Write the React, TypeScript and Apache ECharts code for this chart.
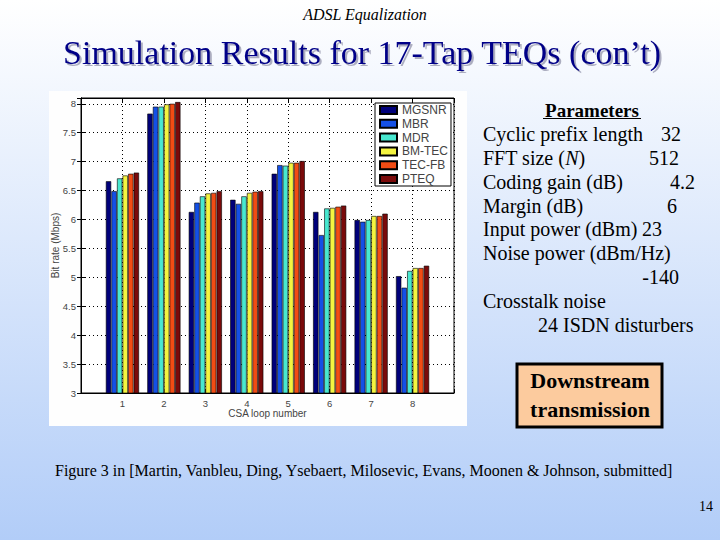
import React, { useEffect, useRef } from "react";
import * as echarts from "echarts";

const loops = [1, 2, 3, 4, 5, 6, 7, 8];
const seriesNames = ["MGSNR", "MBR", "MDR", "BM-TEC", "TEC-FB", "PTEQ"];
const mgsnr = [6.66, 7.83, 6.13, 6.34, 6.79, 6.13, 5.99, 5.02];
const mbr = [6.49, 7.95, 6.29, 6.27, 6.94, 5.73, 5.96, 4.82];
const mdr = [6.71, 7.95, 6.4, 6.4, 6.93, 6.19, 5.99, 5.11];
const bmtec = [6.76, 7.99, 6.45, 6.46, 6.98, 6.2, 6.06, 5.16];
const tecfb = [6.79, 8.0, 6.46, 6.48, 6.98, 6.22, 6.06, 5.16];
const pteq = [6.81, 8.03, 6.49, 6.49, 7.01, 6.24, 6.1, 5.2];
const seriesValues = [mgsnr, mbr, mdr, bmtec, tecfb, pteq];
const seriesColors = ["#00007a", "#1450e6", "#48e8d0", "#f4f440", "#f24c14", "#7a0a0a"];

const paramLines = [
  { label: "Cyclic prefix length", value: "32", vx: 681, y: 134 },
  { label: "FFT size (N)", value: "512", vx: 679, y: 158 },
  { label: "Coding gain (dB)", value: "4.2", vx: 695, y: 182 },
  { label: "Margin (dB)", value: "6", vx: 677, y: 206 },
  { label: "Input power (dBm)", value: "23", vx: 662, y: 229 },
  { label: "Noise power (dBm/Hz)", value: "-140", vx: 679, y: 277 },
];

const serif = "'Liberation Serif', 'Times New Roman', serif";
const sans = "'Liberation Sans', Arial, sans-serif";
const bodyFont = `20px ${serif}`;

export default function App() {
  const ref = useRef<HTMLDivElement>(null);
  useEffect(() => {
    if (!ref.current) return;
    const chart = echarts.init(ref.current, null, { renderer: "svg" });

    const textEls: any[] = [];
    paramLines.forEach((p) => {
      if (p.label === "FFT size (N)") {
        textEls.push({
          type: "text",
          x: 483,
          y: p.y,
          style: {
            text: "{a|FFT size (}{i|N}{a|)}",
            verticalAlign: "middle",
            rich: {
              a: { font: bodyFont, fill: "#000" },
              i: { font: `italic 20px ${serif}`, fill: "#000" },
            },
          },
        });
      } else {
        textEls.push({
          type: "text",
          x: 483,
          y: p.label.startsWith("Noise") ? 253 : p.y,
          style: { text: p.label, font: bodyFont, fill: "#000", verticalAlign: "middle" },
        });
      }
      textEls.push({
        type: "text",
        x: p.vx,
        y: p.y,
        style: { text: p.value, font: bodyFont, fill: "#000", align: "right", verticalAlign: "middle" },
      });
    });

    const option: any = {
      animation: false,
      backgroundColor: {
        type: "linear",
        x: 0,
        y: 0,
        x2: 0,
        y2: 1,
        colorStops: [
          { offset: 0, color: "#ffffff" },
          { offset: 1, color: "#b2cdf8" },
        ],
      },
      graphic: [
        { type: "rect", z: -10, shape: { x: 49, y: 91, width: 418, height: 335 }, style: { fill: "#fefefe" } },
        {
          type: "text",
          x: 365,
          y: 14,
          style: { text: "ADSL Equalization", font: `italic 16px ${serif}`, fill: "#000", align: "center", verticalAlign: "middle" },
        },
        {
          type: "text",
          x: 362,
          y: 52,
          style: {
            text: "Simulation Results for 17-Tap TEQs (con’t)",
            font: `34px ${serif}`,
            fill: "#000088",
            align: "center",
            verticalAlign: "middle",
            textShadowColor: "rgba(100,100,130,0.5)",
            textShadowOffsetX: 2,
            textShadowOffsetY: 2,
            textShadowBlur: 1,
          },
        },
        {
          type: "text",
          x: 592,
          y: 110,
          style: { text: "Parameters", font: `bold 19px ${serif}`, fill: "#000", align: "center", verticalAlign: "middle" },
        },
        { type: "line", shape: { x1: 543, y1: 118.5, x2: 641, y2: 118.5 }, style: { stroke: "#000", lineWidth: 1.2 } },
        ...textEls,
        {
          type: "text",
          x: 483,
          y: 301,
          style: { text: "Crosstalk noise", font: bodyFont, fill: "#000", verticalAlign: "middle" },
        },
        {
          type: "text",
          x: 538,
          y: 325,
          style: { text: "24 ISDN disturbers", font: bodyFont, fill: "#000", verticalAlign: "middle" },
        },
        {
          type: "rect",
          shape: { x: 517, y: 364, width: 145, height: 63 },
          style: { fill: "#fccb9e", stroke: "#000", lineWidth: 3 },
        },
        {
          type: "text",
          x: 590,
          y: 380,
          style: { text: "Downstream", font: `bold 22px ${serif}`, fill: "#000", align: "center", verticalAlign: "middle" },
        },
        {
          type: "text",
          x: 590,
          y: 409,
          style: { text: "transmission", font: `bold 22px ${serif}`, fill: "#000", align: "center", verticalAlign: "middle" },
        },
        {
          type: "text",
          x: 55,
          y: 470,
          style: {
            text: "Figure 3 in [Martin, Vanbleu, Ding, Ysebaert, Milosevic, Evans, Moonen & Johnson, submitted]",
            font: `16px ${serif}`,
            fill: "#000",
            verticalAlign: "middle",
          },
        },
        {
          type: "text",
          x: 713,
          y: 506,
          style: { text: "14", font: `14px ${serif}`, fill: "#000", align: "right", verticalAlign: "middle" },
        },
      ],
      legend: {
        orient: "vertical",
        left: 375,
        top: 103,
        data: seriesNames,
        backgroundColor: "#ffffff",
        borderColor: "#000",
        borderWidth: 1,
        borderRadius: 0,
        padding: [1, 3, 1, 4],
        itemWidth: 17,
        itemHeight: 8,
        itemGap: 1.8,
        icon: "rect",
        textStyle: { fontFamily: sans, fontSize: 12, lineHeight: 10, color: "#444" },
      },
      grid: {
        left: 81,
        top: 98,
        right: 266,
        bottom: 147,
        show: true,
        borderColor: "#000",
        borderWidth: 1,
        backgroundColor: "#ffffff",
      },
      xAxis: [
        {
          type: "value",
          min: 0,
          max: 9,
          interval: 1,
          name: "CSA loop number",
          nameLocation: "middle",
          nameGap: 15,
          nameMoveOverlap: false,
          nameTextStyle: { fontFamily: sans, fontSize: 10, color: "#444" },
          axisLine: { show: true, lineStyle: { color: "#000", width: 1 } },
          axisTick: { show: true, inside: true, length: 4, lineStyle: { color: "#000" } },
          axisLabel: {
            fontFamily: sans,
            fontSize: 9.5,
            color: "#444",
            margin: 5,
            formatter: (v: number) => (v >= 1 && v <= 8 ? String(v) : ""),
          },
          splitLine: { show: true, lineStyle: { color: "#000", type: [1, 3], width: 1 } },
        },
        {
          type: "value",
          position: "top",
          min: 0,
          max: 9,
          interval: 1,
          axisLine: { show: true, lineStyle: { color: "#000" } },
          axisTick: { show: true, inside: true, length: 4, lineStyle: { color: "#000" } },
          axisLabel: { show: false },
          splitLine: { show: false },
        },
      ],
      yAxis: [
        {
          type: "value",
          min: 3,
          max: 8.1,
          interval: 0.5,
          name: "Bit rate (Mbps)",
          nameLocation: "middle",
          nameGap: 21,
          nameMoveOverlap: false,
          nameTextStyle: { fontFamily: sans, fontSize: 10, color: "#444" },
          axisLine: { show: true, lineStyle: { color: "#000", width: 1 } },
          axisTick: { show: true, inside: true, length: 4, lineStyle: { color: "#000" } },
          axisLabel: {
            fontFamily: sans,
            fontSize: 9.5,
            color: "#444",
            margin: 5,
            showMaxLabel: false,
            formatter: (v: number) => (Math.abs(v * 2 - Math.round(v * 2)) < 1e-6 ? String(v) : ""),
          },
          splitLine: { show: true, lineStyle: { color: "#000", type: [1, 3], width: 1 } },
        },
        {
          type: "value",
          position: "right",
          min: 3,
          max: 8.1,
          interval: 0.5,
          axisLine: { show: true, lineStyle: { color: "#000" } },
          axisTick: { show: true, inside: true, length: 4, lineStyle: { color: "#000" } },
          axisLabel: { show: false },
          splitLine: { show: false },
        },
      ],
      series: seriesNames.map((name, i) => ({
        name,
        type: "bar",
        xAxisIndex: 0,
        yAxisIndex: 0,
        barWidth: 5.3,
        barGap: "5%",
        itemStyle: { color: seriesColors[i], borderColor: "#000", borderWidth: 0.6 },
        data: loops.map((x, j) => [x, seriesValues[i][j]]),
      })),
    };
    chart.setOption(option);
    return () => chart.dispose();
  }, []);
  return (
    <div
      ref={ref}
      style={{ position: "fixed", left: 0, top: 0, width: 720, height: 540 }}
    />
  );
}
